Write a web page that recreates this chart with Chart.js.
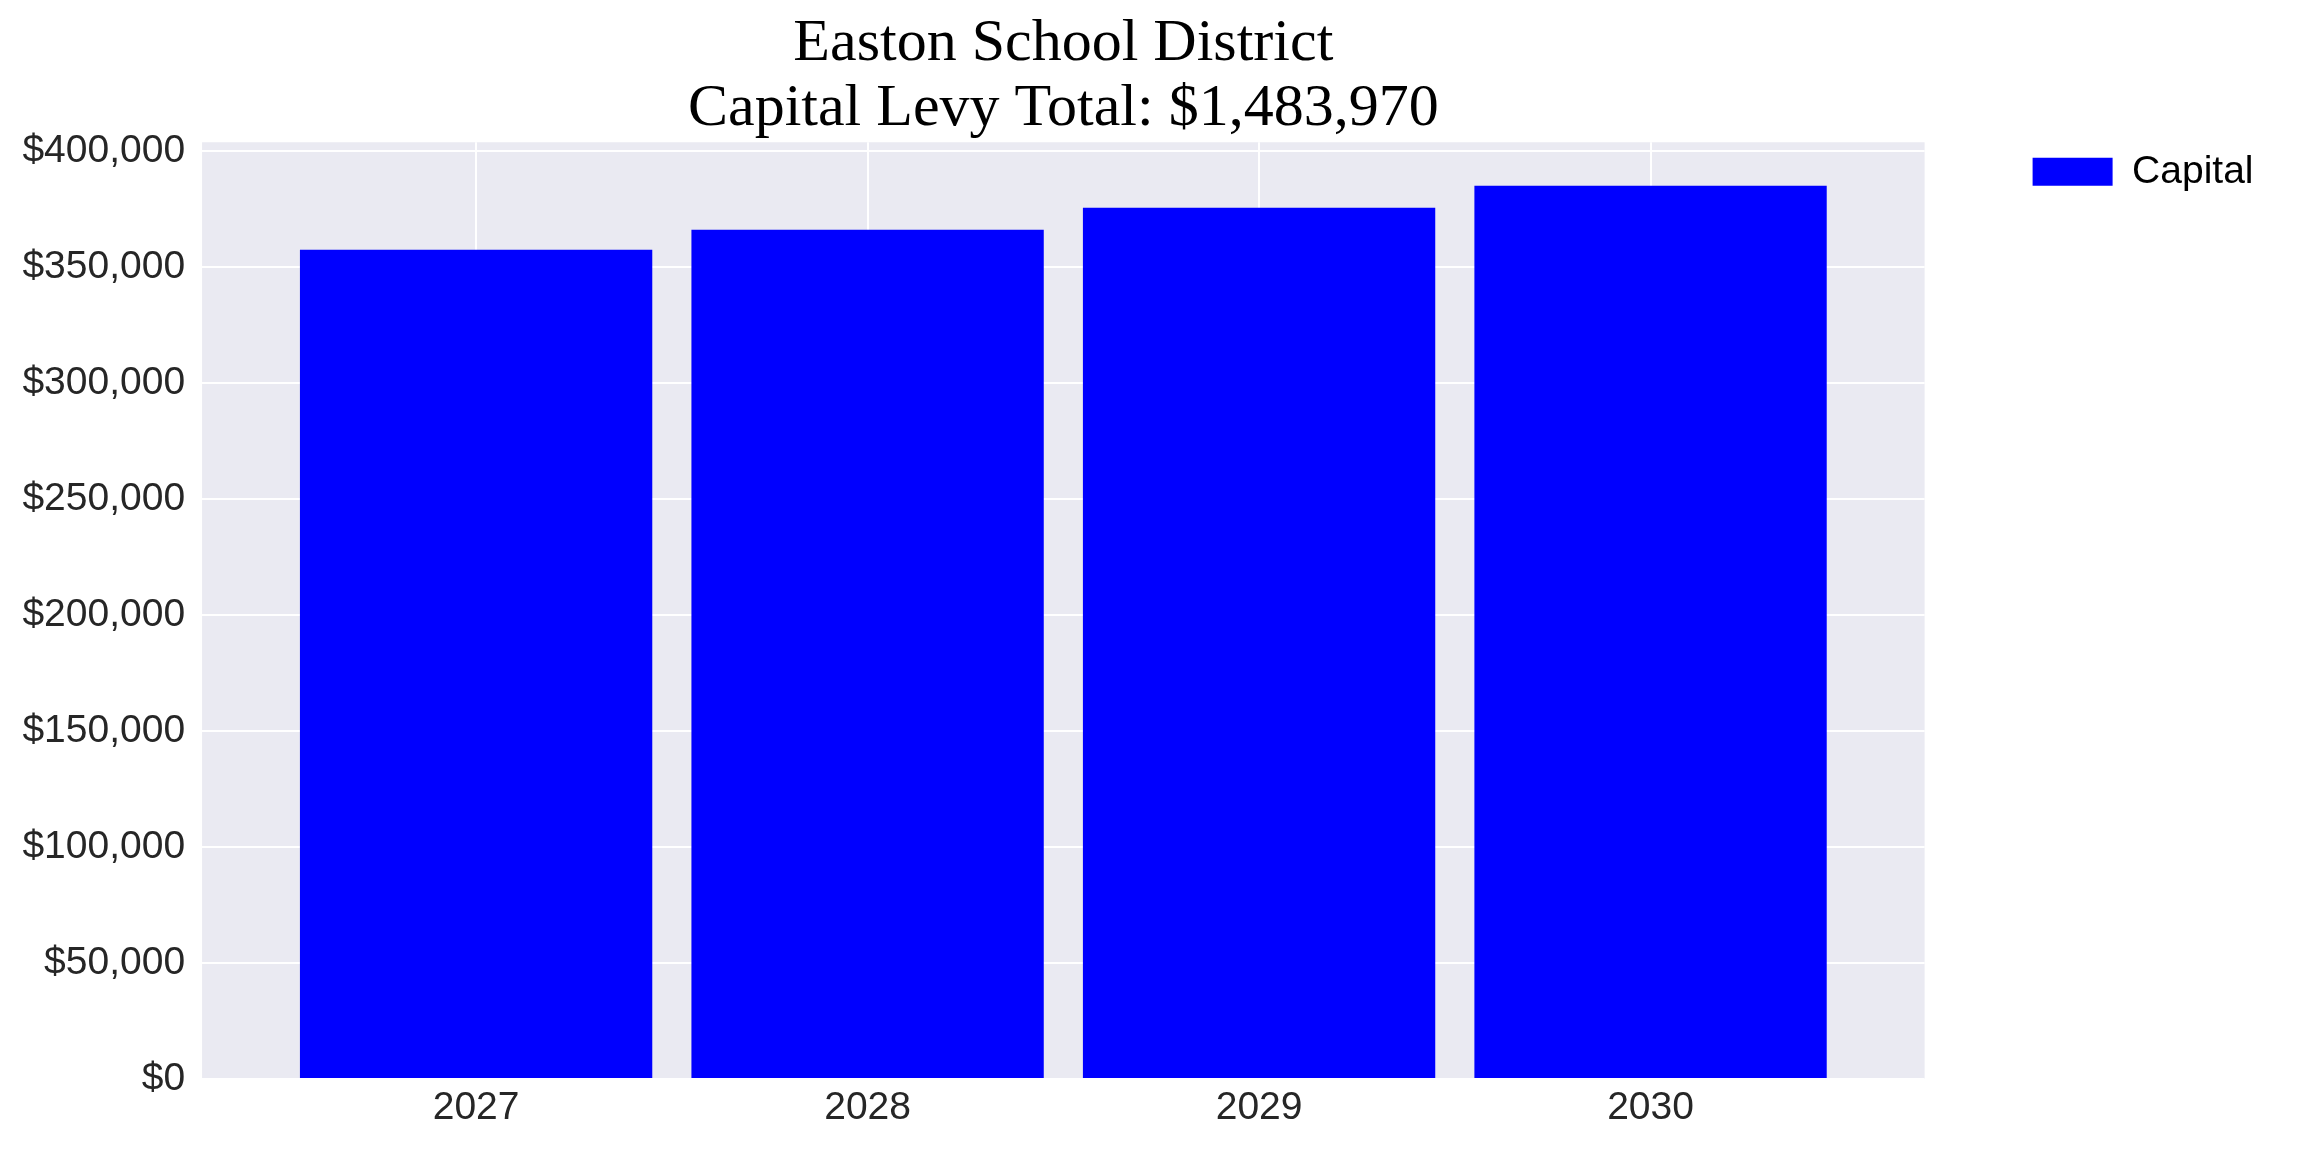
<!DOCTYPE html>
<html>
<head>
<meta charset="utf-8">
<script src="https://cdn.jsdelivr.net/npm/chart.js@4.4.1/dist/chart.umd.min.js"></script>
<style>
  html, body { margin: 0; padding: 0; background: #ffffff; }
  #wrap { width: 2304px; height: 1152px; position: relative; }
</style>
</head>
<body>
<div id="wrap"><canvas id="c"></canvas></div>
<script>
// ---- data ----
const years = ['2027', '2028', '2029', '2030'];
const capitalValues = [357420, 366040, 375520, 384990];
const yTickValues = [0, 50000, 100000, 150000, 200000, 250000, 300000, 350000, 400000];
const titleLines = ['Easton School District', 'Capital Levy Total: $1,483,970'];
const seriesName = 'Capital';
const yAxisMax = 403750;
const xAxisMin = -0.7;
const xAxisMax = 3.7;

const plotBg = {
  id: 'plotBg',
  beforeDraw(chart) {
    const a = chart.chartArea;
    const ctx = chart.ctx;
    ctx.save();
    ctx.fillStyle = '#EAEAF2';
    ctx.fillRect(a.left, a.top, a.right - a.left, a.bottom - a.top);
    ctx.restore();
  }
};

const tickFont = { family: "'Liberation Sans', Arial, sans-serif", size: 39 };

new Chart(document.getElementById('c'), {
  type: 'bar',
  data: {
    datasets: [{
      label: seriesName,
      data: capitalValues.map((v, i) => ({ x: i, y: v })),
      backgroundColor: '#0000FF',
      borderWidth: 0,
      barPercentage: 0.9,
      categoryPercentage: 1.0
    }]
  },
  options: {
    responsive: true,
    maintainAspectRatio: false,
    devicePixelRatio: 1,
    animation: false,
    layout: { padding: { left: 5.4, right: 40.5, top: 1, bottom: 14.2 } },
    plugins: {
      title: {
        display: true,
        text: titleLines,
        fullSize: false,
        color: '#000000',
        font: { family: "'Liberation Serif', 'Times New Roman', serif", size: 60, weight: 'normal', lineHeight: 1.083 },
        padding: { top: 10.5, bottom: 0.8 }
      },
      legend: {
        display: true,
        position: 'right',
        align: 'start',
        fullSize: false,
        labels: {
          boxWidth: 80,
          boxHeight: 28,
          padding: 10,
          color: '#000000',
          font: tickFont
        }
      },
      tooltip: { enabled: false }
    },
    scales: {
      x: {
        type: 'linear',
        min: xAxisMin,
        max: xAxisMax,
        offset: false,
        afterBuildTicks(scale) { scale.ticks = years.map((_, i) => ({ value: i })); },
        ticks: {
          color: '#262626',
          font: tickFont,
          padding: 6,
          maxRotation: 0,
          autoSkip: false,
          callback: (value) => years[value] !== undefined ? years[value] : ''
        },
        grid: { color: '#FFFFFF', lineWidth: 2, drawTicks: false, offset: false },
        border: { display: false }
      },
      y: {
        type: 'linear',
        min: 0,
        max: yAxisMax,
        afterBuildTicks(scale) { scale.ticks = yTickValues.map(v => ({ value: v })); },
        ticks: {
          color: '#262626',
          font: tickFont,
          padding: 17,
          callback: (value) => '$' + Number(value).toLocaleString('en-US')
        },
        grid: { color: '#FFFFFF', lineWidth: 2, drawTicks: false },
        border: { display: false }
      },
      spacer: {
        type: 'linear',
        position: 'right',
        display: true,
        grid: { display: false, drawTicks: false },
        ticks: { display: false },
        border: { display: false },
        afterFit(scale) { scale.width = 98; }
      }
    }
  },
  plugins: [plotBg]
});
</script>
</body>
</html>
